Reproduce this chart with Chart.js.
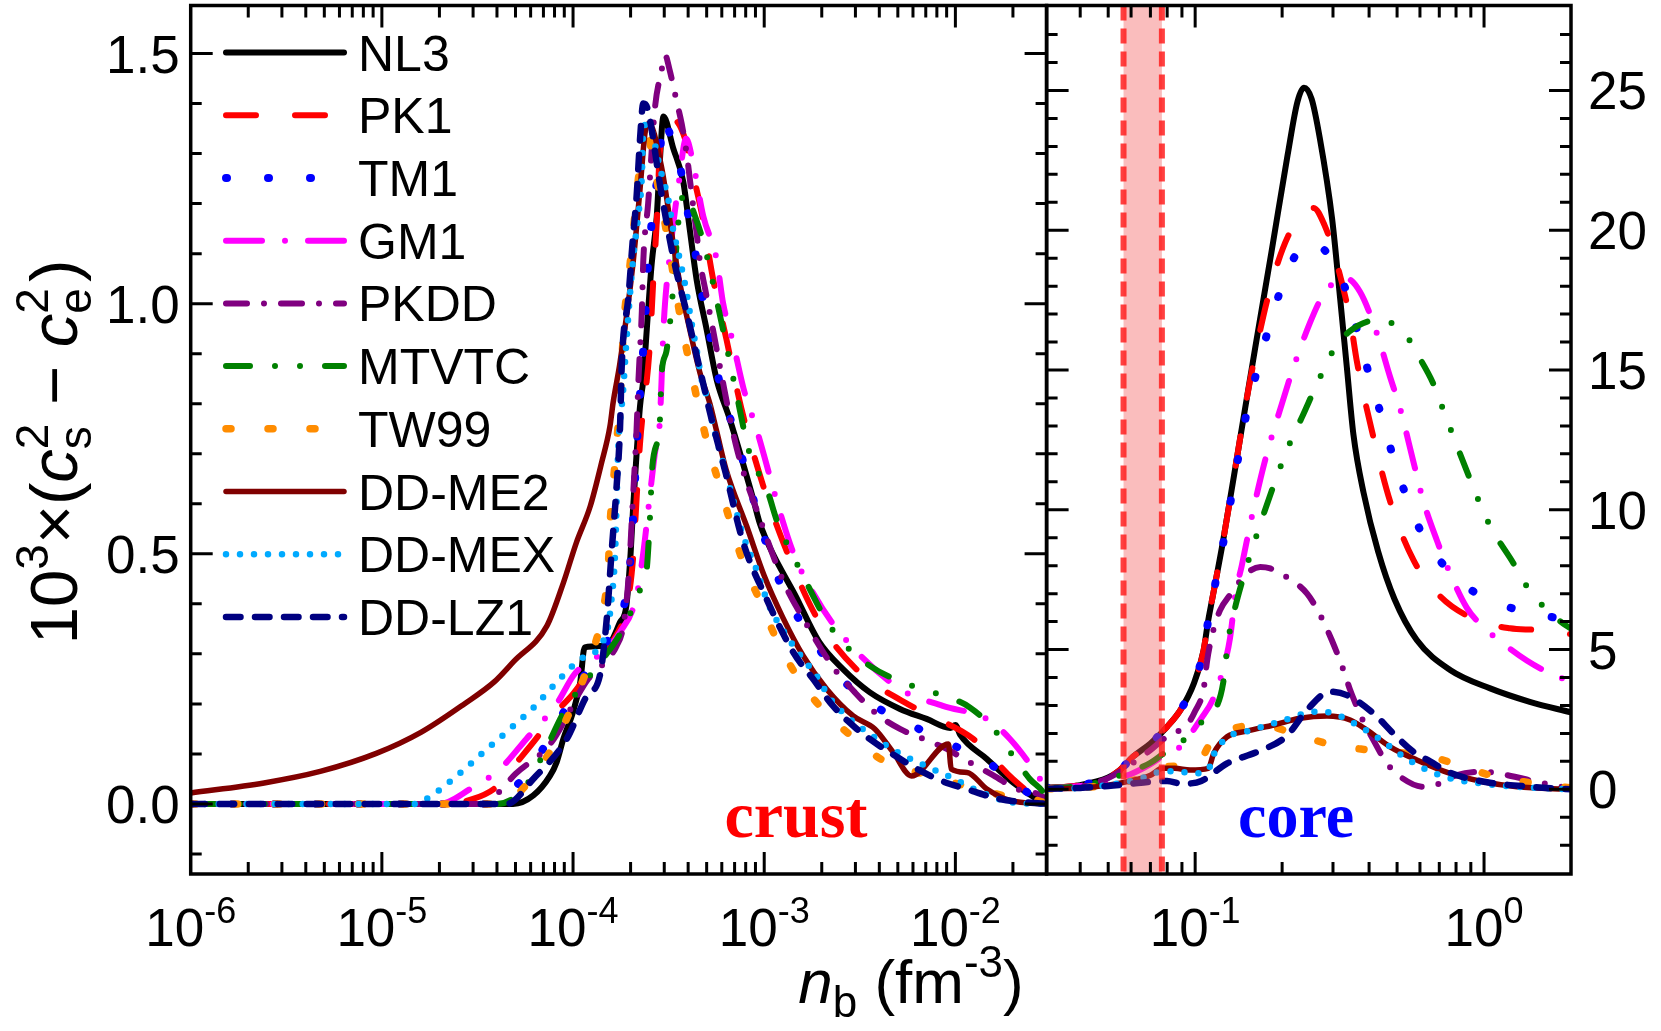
<!DOCTYPE html>
<html><head><meta charset="utf-8"><title>sound speed difference</title>
<script src="https://cdn.jsdelivr.net/npm/chart.js@4.4.1/dist/chart.umd.min.js"></script>
<style>
html,body{margin:0;padding:0;background:#fff;overflow:hidden;}
#wrap{position:relative;width:1661px;height:1031px;background:#fff;}
#wrap canvas{position:absolute;left:0;top:0;}
</style></head>
<body><div id="wrap"><canvas id="crust" width="1661" height="1031"></canvas><canvas id="core" width="1661" height="1031"></canvas></div>
<script>
// ---------------- data ----------------
const seriesNames = ['NL3','PK1','TM1','GM1','PKDD','MTVTC','TW99','DD-ME2','DD-MEX','DD-LZ1'];

// crust panel: [n_b (fm^-3), 10^3 (cs^2 - ce^2)]
const crustNL3 = [[1e-6,0],[4.86e-5,0],[6.2e-5,0.017],[7.57e-5,0.056],[8.2e-5,0.083],[8.9e-5,0.13],[1.0e-4,0.184],[1.09e-4,0.243],[1.15e-4,0.313],[1.5e-4,0.316],[1.76e-4,0.363],[1.9e-4,0.396],[2.0e-4,0.50],[2.06e-4,0.59],[2.15e-4,0.70],[2.24e-4,0.795],[2.33e-4,0.848],[2.43e-4,0.948],[2.58e-4,1.081],[2.74e-4,1.174],[2.84e-4,1.28],[2.97e-4,1.374],[3.34e-4,1.311],[3.77e-4,1.244],[4.08e-4,1.148],[4.43e-4,1.048],[5.0e-4,0.948],[5.64e-4,0.848],[6.62e-4,0.768],[8.75e-4,0.61],[9.5e-4,0.56],[1.11e-3,0.50],[1.45e-3,0.418],[1.93e-3,0.325],[2.59e-3,0.269],[3.57e-3,0.223],[5.13e-3,0.190],[7.07e-3,0.170],[9.4e-3,0.152],[1.0e-2,0.158],[1.06e-2,0.138],[1.46e-2,0.090],[2.0e-2,0.043],[2.66e-2,0.010],[3.0e-2,0.0]];
const crustPK1 = [[1e-6,0],[2.0e-5,0],[3.0e-5,0.01],[4.0e-5,0.035],[5.0e-5,0.08],[6.4e-5,0.13],[8e-5,0.18],[1.0e-4,0.22],[1.3e-4,0.28],[1.7e-4,0.34],[1.9e-4,0.39],[2.06e-4,0.49],[2.15e-4,0.61],[2.24e-4,0.72],[2.52e-4,0.915],[2.63e-4,1.048],[2.75e-4,1.174],[2.83e-4,1.29],[2.95e-4,1.35],[3.3e-4,1.37],[3.85e-4,1.33],[4.0e-4,1.30],[4.71e-4,1.181],[5.41e-4,1.048],[6.35e-4,0.928],[7.6e-4,0.79],[9.9e-4,0.635],[1.26e-3,0.522],[1.88e-3,0.373],[3.04e-3,0.269],[6.26e-3,0.190],[1.24e-2,0.130],[2.0e-2,0.05],[2.7e-2,0.01],[3.0e-2,0.0]];
const crustTM1 = [[1e-6,0],[4.0e-5,0],[4.9e-5,0.03],[6.65e-5,0.098],[8e-5,0.15],[1.05e-4,0.233],[1.4e-4,0.31],[1.76e-4,0.37],[1.97e-4,0.463],[2.06e-4,0.569],[2.15e-4,0.709],[2.29e-4,0.873],[2.38e-4,0.958],[2.43e-4,1.038],[2.52e-4,1.118],[2.63e-4,1.198],[2.84e-4,1.284],[2.94e-4,1.372],[3.2e-4,1.341],[3.7e-4,1.258],[4.0e-4,1.178],[4.38e-4,1.098],[4.73e-4,1.018],[5.2e-4,0.938],[5.74e-4,0.855],[7.3e-4,0.72],[9.9e-4,0.539],[1.16e-3,0.459],[1.45e-3,0.383],[1.91e-3,0.313],[2.54e-3,0.250],[3.79e-3,0.196],[6.0e-3,0.156],[9.35e-3,0.120],[1.4e-2,0.090],[2.0e-2,0.043],[2.7e-2,0.01],[3.0e-2,0.0]];
const crustGM1 = [[1e-6,0],[2.0e-5,0],[2.9e-5,0.03],[4.15e-5,0.07],[5.7e-5,0.13],[8.2e-5,0.20],[1.02e-4,0.26],[1.5e-4,0.31],[1.76e-4,0.343],[2.15e-4,0.416],[2.33e-4,0.502],[2.52e-4,0.615],[2.68e-4,0.701],[2.84e-4,0.761],[2.9e-4,0.840],[2.97e-4,0.948],[3.2e-4,1.094],[3.6e-4,1.25],[3.9e-4,1.33],[4.3e-4,1.27],[4.8e-4,1.175],[5.64e-4,1.088],[6.1e-4,1.0],[6.87e-4,0.922],[7.8e-4,0.83],[9.1e-4,0.75],[1.21e-3,0.583],[1.42e-3,0.502],[1.8e-3,0.422],[2.49e-3,0.342],[5.13e-3,0.230],[8.6e-3,0.196],[1.46e-2,0.170],[1.93e-2,0.130],[2.55e-2,0.070],[2.87e-2,0.037],[3.0e-2,0.01]];
const crustPKDD = [[1e-6,0],[3.4e-5,0],[4.0e-5,0.02],[5.0e-5,0.06],[7.6e-5,0.12],[1.2e-4,0.25],[1.41e-4,0.276],[1.69e-4,0.316],[1.83e-4,0.355],[1.95e-4,0.45],[2.05e-4,0.6],[2.15e-4,0.75],[2.2e-4,0.85],[2.29e-4,0.985],[2.33e-4,1.085],[2.47e-4,1.2],[2.68e-4,1.39],[2.9e-4,1.465],[3.03e-4,1.497],[3.2e-4,1.467],[3.48e-4,1.405],[3.7e-4,1.36],[3.93e-4,1.30],[4.08e-4,1.25],[4.25e-4,1.195],[4.43e-4,1.141],[4.61e-4,1.085],[4.9e-4,1.031],[5.2e-4,0.98],[5.52e-4,0.928],[5.86e-4,0.875],[7.17e-4,0.712],[9.7e-4,0.56],[1.26e-3,0.445],[1.66e-3,0.360],[2.3e-3,0.273],[2.98e-3,0.223],[3.87e-3,0.180],[5.13e-3,0.150],[6.8e-3,0.130],[9.0e-3,0.110],[1.19e-2,0.083],[1.58e-2,0.057],[2.09e-2,0.030],[2.7e-2,0.02],[3.0e-2,0.01]];
const crustMTVTC = [[1e-6,0],[4.0e-5,0],[5.5e-5,0.03],[7e-5,0.1],[9e-5,0.185],[1.3e-4,0.27],[1.7e-4,0.33],[1.99e-4,0.38],[2.3e-4,0.44],[2.43e-4,0.47],[2.52e-4,0.565],[2.6e-4,0.675],[2.85e-4,0.77],[2.9e-4,0.855],[3.08e-4,0.905],[3.27e-4,0.99],[3.4e-4,1.07],[3.62e-4,1.19],[3.9e-4,1.22],[4.3e-4,1.18],[4.83e-4,1.12],[5.98e-4,0.962],[7.03e-4,0.835],[8.4e-4,0.70],[1.03e-3,0.63],[1.18e-3,0.56],[1.36e-3,0.509],[1.66e-3,0.443],[2.1e-3,0.369],[2.49e-3,0.329],[3.57e-3,0.276],[5.56e-3,0.24],[7.66e-3,0.223],[1.19e-2,0.193],[1.64e-2,0.143],[2.0e-2,0.096],[2.45e-2,0.05],[2.87e-2,0.024],[3.0e-2,0.01]];
const crustTW99 = [[1e-6,0],[4.5e-5,0],[5.07e-5,0.017],[6.98e-5,0.083],[8.9e-5,0.156],[1.28e-4,0.31],[1.44e-4,0.389],[1.53e-4,0.476],[1.56e-4,0.555],[1.62e-4,0.635],[1.69e-4,0.722],[1.76e-4,0.802],[1.8e-4,0.882],[1.85e-4,0.968],[1.95e-4,1.048],[2.05e-4,1.131],[2.15e-4,1.214],[2.26e-4,1.294],[2.38e-4,1.367],[2.63e-4,1.281],[2.9e-4,1.201],[3.15e-4,1.121],[3.41e-4,1.038],[3.7e-4,0.958],[4.08e-4,0.878],[4.52e-4,0.798],[5.09e-4,0.715],[5.86e-4,0.635],[6.75e-4,0.555],[7.77e-4,0.482],[9.5e-4,0.406],[1.16e-3,0.329],[1.48e-3,0.256],[1.98e-3,0.193],[2.85e-3,0.136],[4.36e-3,0.083],[6.8e-3,0.060],[1.1e-2,0.037],[1.77e-2,0.017],[2.85e-2,0.004],[3.0e-2,0]];
const crustDDME2 = [[1e-6,0.022],[2.42e-6,0.042],[4.76e-6,0.065],[9.35e-6,0.101],[1.6e-5,0.143],[2.7e-5,0.2],[3.87e-5,0.244],[4.9e-5,0.285],[7.3e-5,0.356],[8.9e-5,0.442],[1.04e-4,0.522],[1.23e-4,0.595],[1.41e-4,0.682],[1.56e-4,0.755],[1.62e-4,0.802],[1.76e-4,0.882],[2.06e-4,1.081],[2.24e-4,1.228],[2.38e-4,1.341],[2.5e-4,1.36],[2.9e-4,1.274],[3.08e-4,1.214],[3.34e-4,1.121],[3.62e-4,1.041],[4.08e-4,0.948],[4.61e-4,0.862],[5.2e-4,0.80],[5.64e-4,0.745],[6.31e-4,0.669],[8.1e-4,0.555],[1.0e-3,0.456],[1.25e-3,0.373],[1.6e-3,0.296],[2.12e-3,0.230],[2.92e-3,0.176],[3.79e-3,0.150],[4.73e-3,0.103],[5.9e-3,0.056],[9.2e-3,0.12],[9.5e-3,0.070],[1.15e-2,0.063],[1.46e-2,0.030],[1.93e-2,0.007],[3.0e-2,0.0]];
const crustDDMEX = [[1e-6,0],[1.5e-5,0],[1.71e-5,0.01],[2.36e-5,0.05],[3.39e-5,0.103],[4.68e-5,0.15],[6.19e-5,0.192],[8.2e-5,0.243],[1.09e-4,0.289],[1.5e-4,0.343],[1.59e-4,0.409],[1.66e-4,0.502],[1.69e-4,0.602],[1.72e-4,0.702],[1.83e-4,0.828],[1.9e-4,0.922],[2.06e-4,1.088],[2.19e-4,1.174],[2.29e-4,1.254],[2.33e-4,1.347],[2.45e-4,1.36],[2.9e-4,1.26],[3.15e-4,1.208],[3.34e-4,1.148],[3.62e-4,1.088],[3.93e-4,1.021],[4.17e-4,0.961],[4.43e-4,0.908],[4.71e-4,0.848],[5.0e-4,0.815],[5.41e-4,0.755],[6.1e-4,0.682],[6.87e-4,0.609],[7.77e-4,0.536],[9.1e-4,0.469],[1.05e-3,0.40],[1.31e-3,0.336],[1.6e-3,0.29],[1.88e-3,0.256],[2.22e-3,0.210],[2.81e-3,0.170],[3.69e-3,0.136],[5.0e-3,0.103],[6.9e-3,0.077],[9.5e-3,0.053],[1.43e-2,0.020],[2.0e-2,0.003],[3.0e-2,0]];
const crustDDLZ1 = [[1e-6,0],[4.5e-5,0],[6.19e-5,0.05],[9.27e-5,0.13],[1.18e-4,0.216],[1.38e-4,0.256],[1.5e-4,0.369],[1.59e-4,0.502],[1.69e-4,0.635],[1.76e-4,0.749],[1.8e-4,0.882],[1.95e-4,1.015],[2.06e-4,1.134],[2.15e-4,1.214],[2.24e-4,1.328],[2.33e-4,1.40],[2.45e-4,1.39],[2.9e-4,1.22],[3.4e-4,1.08],[4.0e-4,0.97],[4.6e-4,0.87],[5.3e-4,0.77],[6.3e-4,0.66],[7.8e-4,0.52],[1.0e-3,0.42],[1.42e-3,0.303],[1.8e-3,0.25],[2.29e-3,0.196],[3.05e-3,0.150],[4.02e-3,0.116],[8.0e-3,0.050],[1.14e-2,0.030],[1.7e-2,0.010],[3.0e-2,0]];

// core panel
const coreNL3 = [[0.0306,0.05],[0.04,0.15],[0.05,0.42],[0.055,0.7],[0.061,1.17],[0.07,1.64],[0.08,2.24],[0.089,2.84],[0.099,3.79],[0.107,4.98],[0.111,6.05],[0.1144,6.77],[0.125,8.9],[0.1423,12.4],[0.1614,15.8],[0.1836,19.2],[0.209,22.7],[0.226,24.6],[0.238,25.1],[0.253,24.7],[0.27,23.3],[0.298,20.4],[0.318,17.5],[0.335,15.1],[0.353,12.7],[0.383,10.6],[0.43,8.5],[0.49,6.8],[0.585,5.34],[0.763,4.27],[1.05,3.61],[1.44,3.13],[2.0,2.75]];
const corePK1 = [[0.0306,0.05],[0.04,0.15],[0.05,0.42],[0.055,0.7],[0.061,1.17],[0.07,1.64],[0.08,2.24],[0.089,2.84],[0.099,3.79],[0.107,4.98],[0.111,6.05],[0.1144,6.77],[0.125,8.9],[0.1423,12.4],[0.151,14.0],[0.172,16.9],[0.19,18.6],[0.21,19.8],[0.235,20.6],[0.257,20.8],[0.28,20.2],[0.30,19.3],[0.344,16.8],[0.363,15.3],[0.414,12.6],[0.473,10.3],[0.57,8.2],[0.705,6.9],[0.944,6.05],[1.23,5.76],[1.52,5.7],[2.0,5.55]];
const coreTM1 = [[0.0306,0.05],[0.04,0.15],[0.05,0.42],[0.055,0.7],[0.061,1.17],[0.07,1.64],[0.08,2.24],[0.089,2.84],[0.099,3.79],[0.107,4.98],[0.111,6.05],[0.1144,6.77],[0.125,8.8],[0.1423,12.1],[0.151,13.5],[0.169,15.5],[0.187,17.1],[0.21,18.6],[0.238,19.5],[0.255,19.6],[0.28,19.3],[0.307,18.7],[0.344,17.4],[0.372,16.0],[0.409,14.5],[0.449,13.1],[0.492,11.65],[0.533,10.6],[0.593,9.4],[0.678,8.4],[0.805,7.54],[0.944,7.0],[1.08,6.7],[1.26,6.47],[1.48,6.29],[1.7,6.17],[2.0,6.05]];
const coreGM1 = [[0.0306,0.05],[0.04,0.12],[0.05,0.3],[0.06,0.55],[0.07,0.9],[0.08,1.3],[0.0887,1.52],[0.105,2.54],[0.115,3.2],[0.125,4.3],[0.132,5.4],[0.138,7.0],[0.145,8.0],[0.151,8.9],[0.163,10.5],[0.177,12.0],[0.197,13.6],[0.219,15.1],[0.25,16.7],[0.271,17.5],[0.30,18.1],[0.33,18.3],[0.372,17.8],[0.426,16.3],[0.473,14.75],[0.513,13.6],[0.57,11.7],[0.617,10.3],[0.687,8.9],[0.743,8.0],[0.871,6.5],[0.995,5.8],[1.17,5.2],[1.41,4.6],[1.69,4.15],[2.0,3.85]];
const corePKDD = [[0.0306,0.02],[0.04,0.1],[0.05,0.4],[0.06,0.9],[0.07,1.4],[0.08,1.9],[0.0936,2.3],[0.1,2.8],[0.107,3.6],[0.11,4.6],[0.115,5.6],[0.122,6.41],[0.132,6.95],[0.15,7.7],[0.168,7.95],[0.182,7.9],[0.207,7.6],[0.244,7.0],[0.271,6.23],[0.297,5.34],[0.326,4.27],[0.344,3.55],[0.363,2.95],[0.38,2.48],[0.414,1.76],[0.461,0.93],[0.513,0.45],[0.617,0.09],[0.705,0.21],[0.805,0.51],[0.995,0.63],[1.2,0.51],[1.52,0.27],[2.0,0.02]];
const coreMTVTC = [[0.0306,0.05],[0.04,0.12],[0.05,0.35],[0.06,0.65],[0.07,0.95],[0.077,1.25],[0.0912,1.76],[0.107,2.48],[0.118,2.9],[0.125,3.8],[0.13,5.3],[0.136,6.3],[0.147,7.6],[0.161,8.9],[0.172,9.8],[0.192,11.2],[0.213,12.4],[0.234,13.3],[0.264,14.5],[0.301,15.7],[0.344,16.4],[0.436,16.8],[0.54,16.2],[0.585,15.6],[0.668,14.5],[0.733,13.4],[0.886,11.2],[1.04,9.5],[1.265,8.08],[1.41,7.24],[1.61,6.53],[1.88,5.93],[2.0,5.75]];
const coreTW99 = [[0.0306,0.02],[0.04,0.05],[0.05,0.15],[0.06,0.3],[0.07,0.5],[0.078,0.8],[0.095,0.85],[0.105,1.1],[0.115,1.8],[0.122,2.0],[0.168,2.30],[0.228,1.94],[0.301,1.58],[0.398,1.41],[0.533,1.29],[0.687,1.11],[0.872,0.75],[1.106,0.45],[1.37,0.27],[1.74,0.12],[2.0,0.05]];
const coreDDME2 = [[0.0306,0.02],[0.04,0.05],[0.05,0.15],[0.06,0.3],[0.07,0.5],[0.077,0.75],[0.085,0.75],[0.096,0.69],[0.111,0.75],[0.116,1.29],[0.129,1.88],[0.151,2.08],[0.187,2.3],[0.231,2.54],[0.286,2.62],[0.344,2.48],[0.393,2.12],[0.473,1.52],[0.585,1.05],[0.763,0.57],[0.995,0.27],[1.3,0.09],[2.0,0.0]];
const coreDDMEX = [[0.0306,0.02],[0.04,0.05],[0.05,0.15],[0.06,0.3],[0.07,0.5],[0.077,0.65],[0.09,0.62],[0.1,0.57],[0.111,0.7],[0.116,1.25],[0.129,1.85],[0.155,2.1],[0.2,2.45],[0.264,2.78],[0.3,2.72],[0.372,2.24],[0.449,1.70],[0.526,1.17],[0.634,0.69],[0.763,0.39],[0.995,0.2],[1.3,0.09],[2.0,0.0]];
const coreDDLZ1 = [[0.0306,0.02],[0.04,0.05],[0.05,0.12],[0.06,0.2],[0.07,0.27],[0.08,0.3],[0.09,0.2],[0.105,0.3],[0.129,0.93],[0.164,1.34],[0.207,1.9],[0.244,2.84],[0.293,3.49],[0.335,3.37],[0.414,2.72],[0.485,2.0],[0.57,1.34],[0.65,1.0],[0.76,0.6],[1.0,0.27],[1.5,0.08],[2.0,0.0]];

// axis ranges, ticks, labels
const crustXRange = [1e-6, 0.03];
const crustYRange = [-0.14, 1.596];
const coreXRange = [0.0306, 2.0];
const coreYRange = [-3.03, 28.04];
const crustYTicks = [0, 0.5, 1.0, 1.5];
const crustYTickLabels = ['0.0', '0.5', '1.0', '1.5'];
const crustXTicks = [1e-6, 1e-5, 1e-4, 1e-3, 1e-2];
const crustXTickExp = ['-6', '-5', '-4', '-3', '-2'];
const coreYTicks = [0, 5, 10, 15, 20, 25];
const coreYTickLabels = ['0', '5', '10', '15', '20', '25'];
const coreXTicks = [0.1, 1];
const coreXTickExp = ['-1', '0'];
const bandRange = [0.0565, 0.0767];
const panelLabels = ['crust', 'core'];

// ---------------- styles ----------------
const seriesColors = ['#000000','#ff0000','#0000ff','#ff00ff','#800080','#008000','#ff8c00','#800000','#00aaff','#000080'];
const seriesWidths = [6, 6, 8, 6, 6, 6, 7.5, 5.5, 6.5, 6.5];
const seriesDashes = [[], [30, 39], [1, 41], [36, 23, 0, 23], [21, 17, 0, 17], [24, 25, 0, 25, 0, 25], [5, 37], [], [0, 14], [14.5, 14.5]];

const W = 1661, H = 1031;
const AREA_TOP = 5.5, AREA_BOTTOM = 874, CRUST_LEFT = 190.7, MID = 1046.6, CORE_RIGHT = 1571;
const TICK_FONT = 53, TICK_SUP = 36;
const SANS = '"Liberation Sans", Arial, Helvetica, sans-serif';
const SERIF = '"Liberation Serif", "Times New Roman", serif';
function font(size, italic, bold, fam) { return (italic ? 'italic ' : '') + (bold ? 'bold ' : '') + size + 'px ' + (fam || SANS); }

function drawRun(ctx, parts, x, y, align) {
  const widths = parts.map(p => {
    ctx.font = font(p.s, p.it);
    const w = p.stack ? Math.max(ctx.measureText(p.sup).width, ctx.measureText(p.sub).width) : ctx.measureText(p.t).width;
    return w + (p.pad || 0);
  });
  const total = widths.reduce((a, b) => a + b, 0);
  let cx = align === 'center' ? x - total / 2 : (align === 'right' ? x - total : x);
  ctx.textAlign = 'left'; ctx.textBaseline = 'alphabetic';
  parts.forEach((p, i) => {
    ctx.font = font(p.s, p.it);
    if (p.stack) { ctx.fillText(p.sup, cx, y + p.supDy); ctx.fillText(p.sub, cx, y + p.subDy); }
    else ctx.fillText(p.t, cx, y + (p.dy || 0));
    cx += widths[i];
  });
}

function makeDatasets(list) {
  return list.map((arr, i) => ({
    label: seriesNames[i],
    data: arr.map(p => ({ x: p[0], y: p[1] })),
    borderColor: seriesColors[i],
    backgroundColor: seriesColors[i],
    borderWidth: seriesWidths[i],
    borderDash: seriesDashes[i],
    borderCapStyle: 'round',
    borderJoinStyle: 'round',
    pointRadius: 0,
    pointHoverRadius: 0,
    cubicInterpolationMode: 'monotone',
    fill: false,
    order: seriesNames.length - i
  }));
}

function drawTicks(ctx, a, xs, ys, xVals, yVals) {
  ctx.strokeStyle = '#000'; ctx.lineWidth = 3; ctx.lineCap = 'butt'; ctx.setLineDash([]);
  ctx.beginPath();
  yVals.forEach(t => {
    const py = ys.getPixelForValue(t.v);
    if (py < a.top + 3 || py > a.bottom - 3) return;
    const len = t.major ? 22 : 11;
    ctx.moveTo(a.left, py); ctx.lineTo(a.left + len, py);
    ctx.moveTo(a.right, py); ctx.lineTo(a.right - len, py);
  });
  xVals.forEach(t => {
    const px = xs.getPixelForValue(t.v);
    if (px < a.left + 3 || px > a.right - 3) return;
    const len = t.major ? 22 : 12;
    ctx.moveTo(px, a.bottom); ctx.lineTo(px, a.bottom - len);
    ctx.moveTo(px, a.top); ctx.lineTo(px, a.top + len);
  });
  ctx.stroke();
  ctx.lineWidth = 3.5;
  ctx.strokeRect(a.left, a.top, a.right - a.left, a.bottom - a.top);
}

function logTickList(range) {
  const out = [];
  for (let e = Math.floor(Math.log10(range[0])); e <= Math.ceil(Math.log10(range[1])); e++) {
    for (let m = 1; m <= 9; m++) {
      const v = m * Math.pow(10, e);
      if (v >= range[0] * 0.999 && v <= range[1] * 1.001) out.push({ v, major: m === 1 });
    }
  }
  return out;
}
function linTickList(lo, hi, step, majorEvery) {
  const out = [];
  for (let k = Math.ceil(lo / step); k * step <= hi; k++) out.push({ v: k * step, major: k % majorEvery === 0 });
  return out;
}

const crustDecor = {
  id: 'crustDecor',
  afterDraw(chart) {
    const { ctx, chartArea: a, scales: { x, y } } = chart;
    ctx.save();
    drawTicks(ctx, a, x, y, logTickList(crustXRange), linTickList(crustYRange[0], crustYRange[1], 0.1, 5));
    ctx.fillStyle = '#000';
    // y tick labels
    ctx.font = font(TICK_FONT); ctx.textAlign = 'right'; ctx.textBaseline = 'alphabetic';
    crustYTicks.forEach((v, i) => ctx.fillText(crustYTickLabels[i], a.left - 11, y.getPixelForValue(v) + 19));
    // x tick labels
    crustXTicks.forEach((v, i) => drawRun(ctx, [{ t: '10', s: TICK_FONT }, { t: crustXTickExp[i], s: TICK_SUP, dy: -23 }], x.getPixelForValue(v), 946, 'center'));
    // legend
    seriesNames.forEach((name, i) => {
      const yc = 52.6 + i * 62.7;
      ctx.save();
      ctx.strokeStyle = seriesColors[i]; ctx.lineWidth = seriesWidths[i];
      ctx.lineCap = 'round'; ctx.setLineDash(seriesDashes[i]);
      ctx.beginPath(); ctx.moveTo(226, yc); ctx.lineTo(344, yc); ctx.stroke();
      ctx.restore();
      ctx.fillStyle = '#000'; ctx.font = font(50); ctx.textAlign = 'left'; ctx.textBaseline = 'alphabetic';
      ctx.fillText(name, 358, yc + 18);
    });
    // panel label
    ctx.fillStyle = '#ff0000'; ctx.font = font(66, false, true, SERIF); ctx.textAlign = 'center';
    ctx.fillText(panelLabels[0], 796, 837);
    // axis titles
    ctx.fillStyle = '#000';
    drawRun(ctx, [{ t: 'n', s: 62, it: true }, { t: 'b', s: 44, dy: 14 }, { t: ' (fm', s: 62 }, { t: '-3', s: 44, dy: -26 }, { t: ')', s: 62 }], 911, 1003, 'center');
    ctx.save();
    ctx.translate(77, 452); ctx.rotate(-Math.PI / 2);
    drawRun(ctx, [
      { t: '10', s: 67 }, { t: '3', s: 46, dy: -29 }, { t: '×(', s: 67 }, { t: 'c', s: 67, it: true },
      { stack: true, sup: '2', sub: 's', s: 46, supDy: -29, subDy: 14 }, { t: ' − ', s: 67 },
      { t: 'c', s: 67, it: true }, { stack: true, sup: '2', sub: 'e', s: 46, supDy: -29, subDy: 14, pad: 6 }, { t: ')', s: 67 }
    ], 0, 0, 'center');
    ctx.restore();
    ctx.restore();
  }
};

const coreDecor = {
  id: 'coreDecor',
  afterDatasetsDraw(chart) {
    const { ctx, chartArea: a, scales: { x } } = chart;
    const x0 = x.getPixelForValue(bandRange[0]), x1 = x.getPixelForValue(bandRange[1]);
    ctx.save();
    ctx.fillStyle = 'rgba(242, 90, 90, 0.4)';
    ctx.fillRect(x0, a.top, x1 - x0, a.bottom - a.top);
    ctx.strokeStyle = 'rgba(255, 30, 30, 0.85)'; ctx.lineWidth = 6; ctx.setLineDash([15, 8]); ctx.lineCap = 'butt';
    ctx.beginPath(); ctx.moveTo(x0, a.top); ctx.lineTo(x0, a.bottom); ctx.moveTo(x1, a.top); ctx.lineTo(x1, a.bottom); ctx.stroke();
    ctx.restore();
  },
  afterDraw(chart) {
    const { ctx, chartArea: a, scales: { x, y } } = chart;
    ctx.save();
    drawTicks(ctx, a, x, y, logTickList(coreXRange), linTickList(coreYRange[0], coreYRange[1], 1, 5));
    ctx.fillStyle = '#000';
    ctx.font = font(TICK_FONT); ctx.textAlign = 'left'; ctx.textBaseline = 'alphabetic';
    coreYTicks.forEach((v, i) => ctx.fillText(coreYTickLabels[i], a.right + 17, y.getPixelForValue(v) + 19));
    coreXTicks.forEach((v, i) => drawRun(ctx, [{ t: '10', s: TICK_FONT }, { t: coreXTickExp[i], s: TICK_SUP, dy: -23 }], x.getPixelForValue(v), 946, 'center'));
    ctx.fillStyle = '#0000ff'; ctx.font = font(64, false, true, SERIF); ctx.textAlign = 'center';
    ctx.fillText(panelLabels[1], 1296, 837);
    ctx.restore();
  }
};

function baseOptions(pad, xr, yr) {
  return {
    responsive: false, animation: false, devicePixelRatio: 1,
    layout: { padding: pad },
    plugins: { legend: { display: false }, tooltip: { enabled: false } },
    events: [],
    scales: {
      x: { type: 'logarithmic', display: false, min: xr[0], max: xr[1] },
      y: { type: 'linear', display: false, min: yr[0], max: yr[1] }
    }
  };
}

new Chart(document.getElementById('crust'), {
  type: 'line',
  data: { datasets: makeDatasets([crustNL3, crustPK1, crustTM1, crustGM1, crustPKDD, crustMTVTC, crustTW99, crustDDME2, crustDDMEX, crustDDLZ1]) },
  options: baseOptions({ left: CRUST_LEFT, right: W - MID, top: AREA_TOP, bottom: H - AREA_BOTTOM }, crustXRange, crustYRange),
  plugins: [crustDecor]
});
new Chart(document.getElementById('core'), {
  type: 'line',
  data: { datasets: makeDatasets([coreNL3, corePK1, coreTM1, coreGM1, corePKDD, coreMTVTC, coreTW99, coreDDME2, coreDDMEX, coreDDLZ1]) },
  options: baseOptions({ left: MID, right: W - CORE_RIGHT, top: AREA_TOP, bottom: H - AREA_BOTTOM }, coreXRange, coreYRange),
  plugins: [coreDecor]
});
</script></body></html>
